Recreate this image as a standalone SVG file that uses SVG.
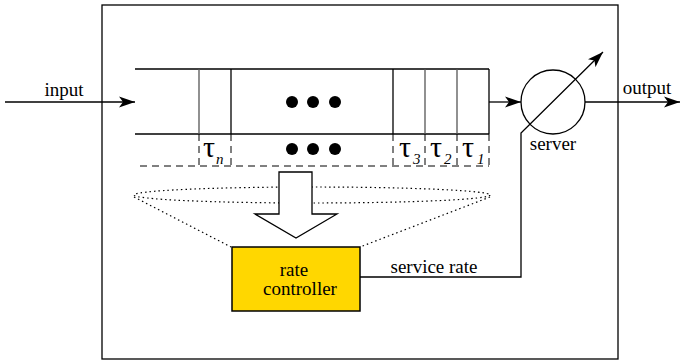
<svg xmlns="http://www.w3.org/2000/svg" width="682" height="362" viewBox="0 0 682 362">
<style>
.ln{stroke:#000;stroke-width:1.3;fill:none}
.gr{stroke:#555;stroke-width:1.3;fill:none}
.dash{stroke:#000;stroke-width:1;fill:none;stroke-dasharray:7 5}
.dot{stroke:#000;stroke-width:1.2;fill:none;stroke-dasharray:1.5 3}
text{font-family:'Liberation Serif','Times New Roman',Times,serif;fill:#000}
.t{font-size:19px}
.tau{font-size:30px}
.sub{font-style:italic;font-size:15px}
</style>
<defs>
<marker id="ah" markerWidth="18" markerHeight="12" refX="16" refY="6" orient="auto" markerUnits="userSpaceOnUse">
<path d="M16,6 L0,0.5 L4,6 L0,11.5 Z" fill="#000"/>
</marker>
</defs>
<rect width="682" height="362" fill="#fff"/>
<g id="frame"><rect x="102" y="5" width="516" height="354" class="ln" stroke-width="1.5"/></g>
<g id="queue">
<line x1="135" y1="69" x2="489" y2="69" class="ln" stroke-width="1.6"/>
<line x1="135" y1="134" x2="489" y2="134" class="ln" stroke-width="1.6"/>
<line x1="489" y1="69" x2="489" y2="134" class="ln" stroke-width="1.6"/>
<line x1="199" y1="69" x2="199" y2="134" class="gr"/>
<line x1="231" y1="69" x2="231" y2="134" class="ln"/>
<line x1="393" y1="69" x2="393" y2="134" class="ln"/>
<line x1="425" y1="69" x2="425" y2="134" class="gr"/>
<line x1="457" y1="69" x2="457" y2="134" class="gr"/>
<circle cx="292" cy="102" r="6"/><circle cx="313" cy="102" r="6"/><circle cx="335" cy="102" r="6"/>
</g>
<g id="timestamps">
<line x1="140" y1="166" x2="489" y2="166" class="dash"/>
<line x1="199" y1="134" x2="199" y2="166" class="dash"/>
<line x1="231" y1="134" x2="231" y2="166" class="dash"/>
<line x1="393" y1="134" x2="393" y2="166" class="dash"/>
<line x1="425" y1="134" x2="425" y2="166" class="dash"/>
<line x1="457" y1="134" x2="457" y2="166" class="dash"/>
<line x1="489" y1="134" x2="489" y2="166" class="dash"/>
<circle cx="292" cy="149" r="6"/><circle cx="313" cy="149" r="6"/><circle cx="335" cy="149" r="6"/>
<text class="tau" x="203" y="157">τ</text><text class="sub" x="216" y="164">n</text>
<text class="tau" x="399" y="157">τ</text><text class="sub" x="413" y="164">3</text>
<text class="tau" x="430" y="157">τ</text><text class="sub" x="444" y="164">2</text>
<text class="tau" x="462" y="157">τ</text><text class="sub" x="477" y="164">1</text>
</g>
<g id="monitor">
<ellipse cx="312" cy="195" rx="178" ry="8" class="dot"/>
<line x1="134" y1="197" x2="231" y2="247" class="dot"/>
<line x1="490" y1="197" x2="360" y2="247" class="dot"/>
<path d="M279,172 L312,172 L312,214 L337,214 L296,238 L255,214 L279,214 Z" fill="#fff" stroke="#000" stroke-width="1.3"/>
</g>
<g id="controller">
<rect x="232" y="247" width="128" height="64" fill="#FFD700" stroke="#000" stroke-width="1.5"/>
<text class="t" x="294" y="276" text-anchor="middle">rate</text>
<text class="t" x="300" y="295" text-anchor="middle">controller</text>
</g>
<g id="server">
<circle cx="553" cy="102" r="32" class="ln"/>
<text class="t" x="553" y="150" text-anchor="middle">server</text>
</g>
<g id="connectors">
<line x1="5" y1="102" x2="135" y2="102" class="ln" marker-end="url(#ah)"/>
<text class="t" x="64" y="96" text-anchor="middle">input</text>
<line x1="489" y1="102" x2="521" y2="102" class="ln" marker-end="url(#ah)"/>
<line x1="585" y1="102" x2="680" y2="102" class="ln" marker-end="url(#ah)"/>
<text class="t" x="647" y="94" text-anchor="middle">output</text>
<polyline points="360,277 521,277 521,133 603,52" class="ln" marker-end="url(#ah)"/>
<text class="t" x="434" y="273" text-anchor="middle">service rate</text>
</g>
</svg>
